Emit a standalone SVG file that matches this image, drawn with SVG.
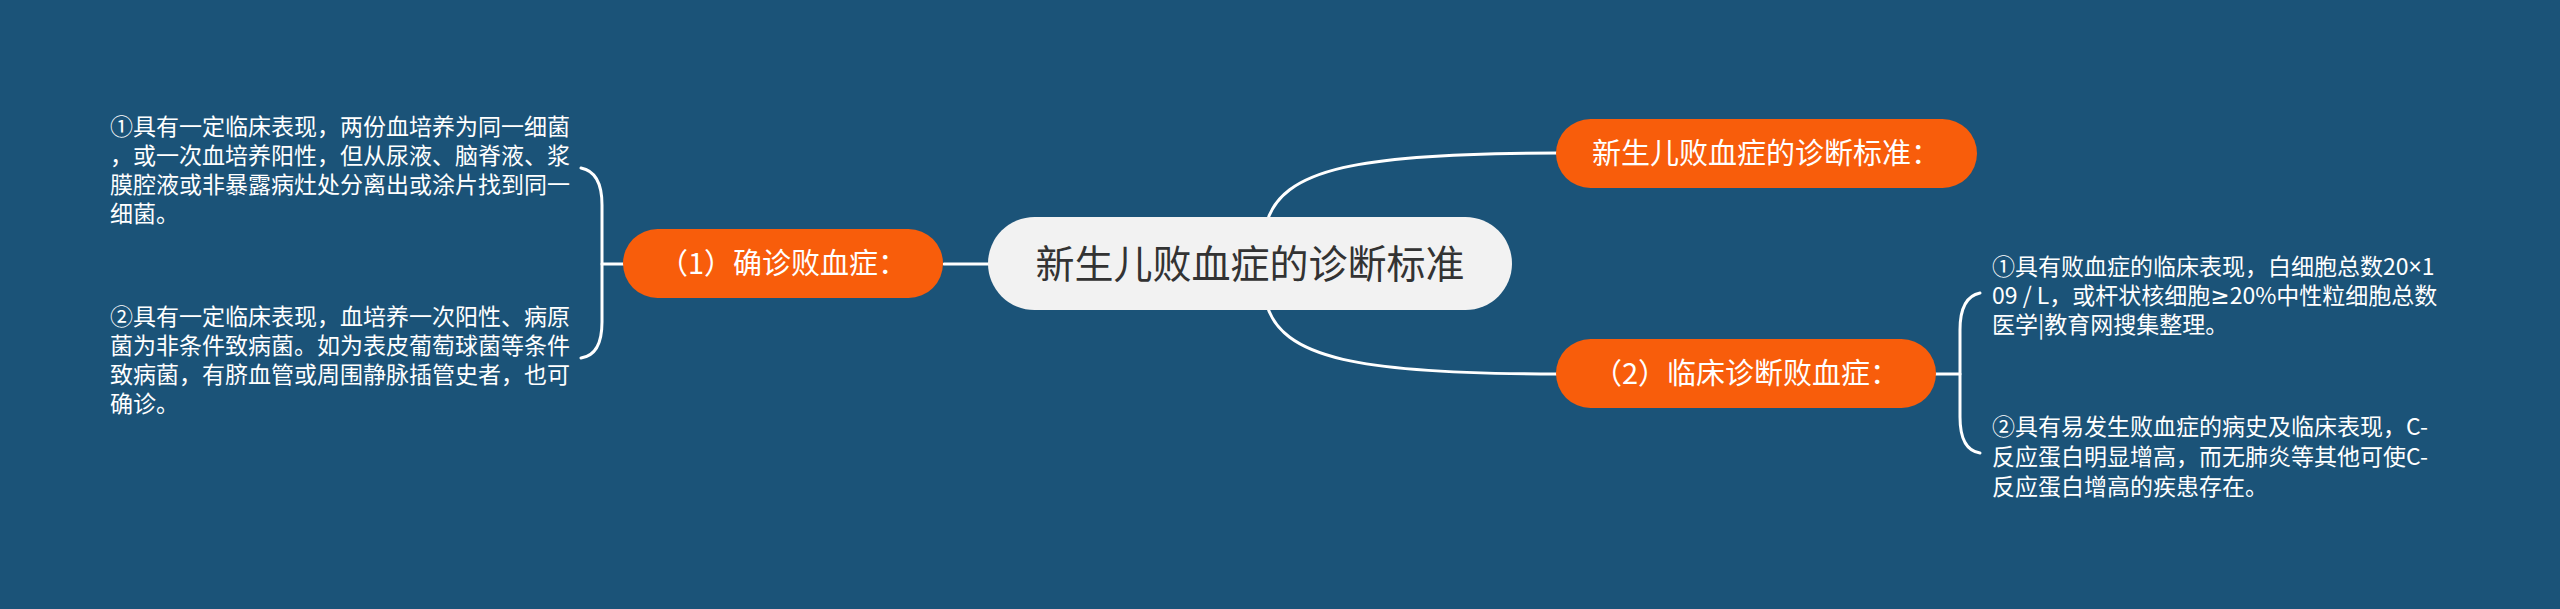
<svg xmlns="http://www.w3.org/2000/svg" width="2560" height="609" viewBox="0 0 2560 609">
<style>
.bg{fill:#1b5378}
.link{fill:none;stroke:#ffffff;stroke-width:3;stroke-linecap:round}
.root{fill:#f2f2f2}
.roott{font-family:"Noto Sans CJK SC","Noto Sans",sans-serif;font-size:39px;fill:#333333;text-anchor:middle}
.main{fill:#f85d0b}
.maint{font-family:"Noto Sans CJK SC","Noto Sans",sans-serif;font-size:29px;fill:#ffffff;text-anchor:middle}
.leaf{font-family:"Noto Sans CJK SC","Noto Sans",sans-serif;font-size:23px;fill:#ffffff}
.sym{font-family:"Noto Sans","DejaVu Sans",sans-serif}
</style>
<rect class="bg" x="0" y="0" width="2560" height="609"/>
<g id="connectors">
<path class="link" d="M944,264 L990,264"/>
<path class="link" d="M1266,225 C1280,168 1360,153 1558,153"/>
<path class="link" d="M1266,302 C1280,359 1360,374 1558,374"/>
<path class="link" d="M602,264 L625,264"/>
<path class="link" d="M581,168 Q602,172 602,205 L602,322 Q602,355 581,358"/>
<path class="link" d="M1934,374 L1960,374"/>
<path class="link" d="M1980,293 Q1960,297 1960,330 L1960,417 Q1960,450 1980,453"/>
</g>
<g id="root">
<rect class="root" x="988" y="217" width="524" height="93" rx="46.5"/>
<text class="roott" x="1250" y="278">新生儿败血症的诊断标准</text>
</g>
<g id="node1">
<rect class="main" x="623" y="229" width="320" height="69" rx="34.5"/>
<text class="maint" x="783" y="274">（1）确诊败血症：</text>
</g>
<g id="node3">
<rect class="main" x="1556" y="119" width="421" height="69" rx="34.5"/>
<text class="maint" x="1766" y="164">新生儿败血症的诊断标准：</text>
</g>
<g id="node2">
<rect class="main" x="1556" y="339" width="380" height="69" rx="34.5"/>
<text class="maint" x="1746" y="384">（2）临床诊断败血症：</text>
</g>
<g id="leaf1">
<text class="leaf" x="110" y="135">①具有一定临床表现，两份血培养为同一细菌</text>
<text class="leaf" x="110" y="164">，或一次血培养阳性，但从尿液、脑脊液、浆</text>
<text class="leaf" x="110" y="193">膜腔液或非暴露病灶处分离出或涂片找到同一</text>
<text class="leaf" x="110" y="222">细菌。</text>
</g>
<g id="leaf2">
<text class="leaf" x="110" y="325">②具有一定临床表现，血培养一次阳性、病原</text>
<text class="leaf" x="110" y="354">菌为非条件致病菌。如为表皮葡萄球菌等条件</text>
<text class="leaf" x="110" y="383">致病菌，有脐血管或周围静脉插管史者，也可</text>
<text class="leaf" x="110" y="412">确诊。</text>
</g>
<g id="leaf3">
<text class="leaf" x="1992" y="275">①具有败血症的临床表现，白细胞总数20<tspan class="sym">×</tspan>1</text>
<text class="leaf" x="1992" y="304">09 / L，或杆状核细胞<tspan class="sym">≥</tspan>20%中性粒细胞总数</text>
<text class="leaf" x="1992" y="333">医学|教育网搜集整理。</text>
</g>
<g id="leaf4">
<text class="leaf" x="1992" y="435">②具有易发生败血症的病史及临床表现，C-</text>
<text class="leaf" x="1992" y="465">反应蛋白明显增高，而无肺炎等其他可使C-</text>
<text class="leaf" x="1992" y="495">反应蛋白增高的疾患存在。</text>
</g>
</svg>
